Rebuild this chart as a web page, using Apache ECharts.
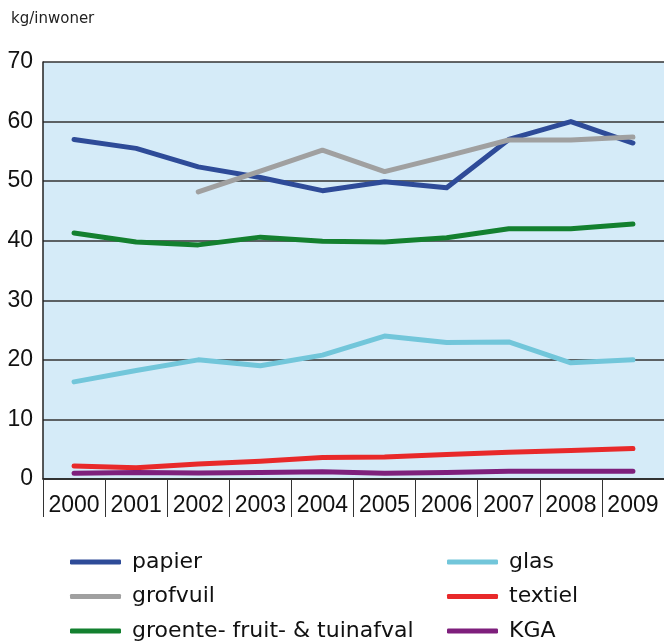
<!DOCTYPE html>
<html>
<head>
<meta charset="utf-8">
<script src="https://cdn.jsdelivr.net/npm/echarts@6/dist/echarts.min.js"></script>
<style>
  html,body{margin:0;padding:0;background:#fff;}
  #chart_wrap{width:664px;height:644px;}
</style>
</head>
<body>
<div id="chart_wrap"></div>
<script>
var years=['2000','2001','2002','2003','2004','2005','2006','2007','2008','2009'];
var papier=[57.0,55.5,52.4,50.6,48.4,49.9,48.9,57.0,60.0,56.4];
var grofvuil=['-','-',48.2,51.7,55.2,51.6,54.2,56.9,56.9,57.4];
var groente=[41.3,39.8,39.3,40.6,39.9,39.8,40.5,42.0,42.0,42.8];
var glas=[16.3,18.2,20.0,19.0,20.8,24.0,22.9,23.0,19.5,20.0];
var textiel=[2.2,1.9,2.5,3.0,3.6,3.7,4.1,4.5,4.8,5.1];
var kga=[0.95,1.1,1.0,1.1,1.2,0.95,1.1,1.3,1.3,1.3];
var yTicks=[0,10,20,30,40,50,60,70];

var fontNum='"Liberation Sans",Arial,sans-serif';
var fontText='"DejaVu Sans",sans-serif';

var mkLine=function(name,data,color){
  return {
    name:name,
    type:'line',
    data:data,
    showSymbol:false,
    symbol:'none',
    connectNulls:false,
    lineStyle:{color:color,width:5,cap:'round',join:'round'},
    itemStyle:{color:color},
    animation:false
  };
};

var mkLegend=function(names,left){
  return {
    data:names,
    orient:'vertical',left:left,top:551,width:300,height:140,padding:0,
    itemWidth:51,itemHeight:5,itemGap:12.5,icon:'roundRect',
    textStyle:{fontFamily:fontText,fontSize:22,lineHeight:20,color:'#111',padding:[0,0,0,6]}
  };
};

var objEcharts=echarts.init(document.getElementById('chart_wrap'),null,{renderer:'canvas'});

var option={
  backgroundColor:'#fff',
  title:{
    text:'kg/inwoner',
    left:11,
    top:12,
    padding:0,
    textStyle:{fontFamily:fontText,fontSize:15,fontWeight:'normal',color:'#222'}
  },
  grid:{left:43,right:-2,top:62,bottom:165,show:true,backgroundColor:'#d5ebf8',borderWidth:0},
  legend:[
    mkLegend(['papier','grofvuil','groente- fruit- & tuinafval'],70),
    mkLegend(['glas','textiel','KGA'],447)
  ],
  xAxis:{
    type:'category',
    data:years,
    boundaryGap:true,
    axisLine:{show:true,lineStyle:{color:'#222',width:1.5}},
    axisTick:{show:true,interval:0,length:38,lineStyle:{color:'#333',width:1}},
    axisLabel:{interval:0,margin:15,fontFamily:fontNum,fontSize:23,color:'#111'},
    splitLine:{show:false}
  },
  yAxis:{
    type:'value',
    min:yTicks[0],
    max:yTicks[yTicks.length-1],
    interval:10,
    axisLine:{show:true,lineStyle:{color:'#222',width:1.5}},
    axisTick:{show:false},
    axisLabel:{margin:10,fontFamily:fontNum,fontSize:23,color:'#111'},
    splitLine:{show:true,lineStyle:{color:'#333',width:1.5}}
  },
  series:[
    mkLine('papier',papier,'#2e4b98'),
    mkLine('grofvuil',grofvuil,'#a0a0a0'),
    mkLine('groente- fruit- & tuinafval',groente,'#13802f'),
    mkLine('glas',glas,'#72c6da'),
    mkLine('textiel',textiel,'#e8292a'),
    mkLine('KGA',kga,'#7e1f7c')
  ]
};

objEcharts.setOption(option);
</script>
</body>
</html>
